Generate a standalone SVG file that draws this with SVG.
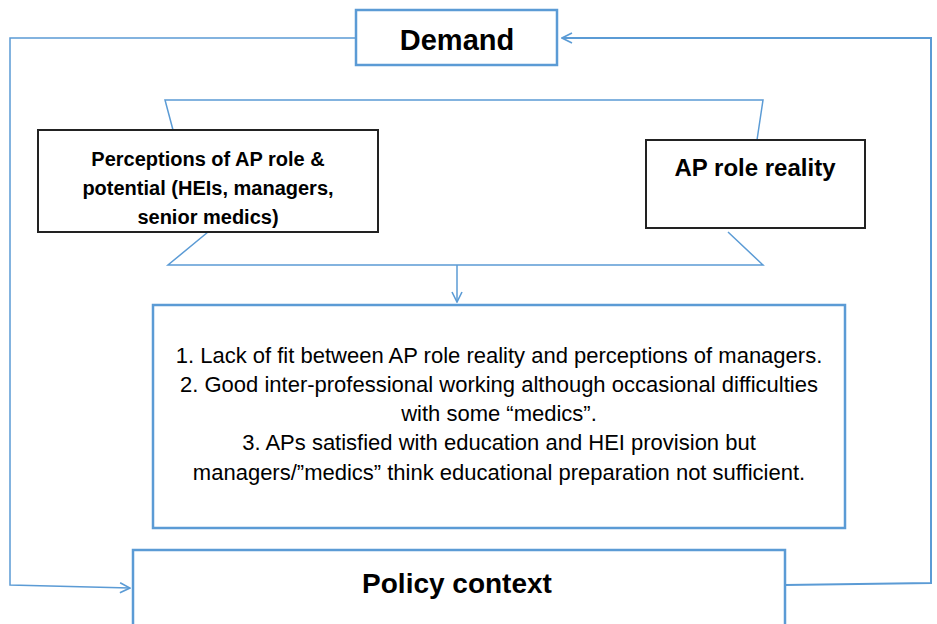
<svg xmlns="http://www.w3.org/2000/svg" width="937" height="624" viewBox="0 0 937 624">
<defs>
<marker id="arr" viewBox="0 0 12 12" refX="11" refY="6" markerWidth="12" markerHeight="12" markerUnits="userSpaceOnUse" orient="auto">
<path d="M1,1 L11,6 L1,11" fill="none" stroke="#5B9BD5" stroke-width="1.6"/>
</marker>
</defs>
<style>
.blue{fill:#fff;stroke:#5B9BD5;stroke-width:2.5}
.black{fill:#fff;stroke:#222;stroke-width:2}
.ln{fill:none;stroke:#5B9BD5;stroke-width:1.5}
.ln2{fill:none;stroke:#5B9BD5;stroke-width:2}
.t{font-family:"Liberation Sans",Arial,sans-serif;fill:#000;text-anchor:middle}
.b{font-weight:bold}
</style>
<g id="connectors">
<polyline class="ln" points="356,38 10,38 10,585 130,588" marker-end="url(#arr)"/>
<polyline class="ln2" points="785,585 931,583 931,38 562,38" marker-end="url(#arr)"/>
<polyline class="ln" points="173,130 165,100 763,100 757,140"/>
<polyline class="ln" points="208,232 168,265 763,265 728,232"/>
<line class="ln" x1="457" y1="265" x2="457" y2="302" marker-end="url(#arr)"/>
</g>
<g id="demand">
<rect class="blue" x="356" y="10" width="201" height="55"/>
<text class="t b" x="457" y="50" font-size="29">Demand</text>
</g>
<g id="perceptions">
<rect class="black" x="38" y="130" width="340" height="102"/>
<text class="t b" x="208" y="166" font-size="20">Perceptions of AP role &amp;</text>
<text class="t b" x="208" y="195" font-size="20">potential (HEIs, managers,</text>
<text class="t b" x="208" y="224" font-size="20">senior medics)</text>
</g>
<g id="reality">
<rect class="black" x="646" y="140" width="219" height="88"/>
<text class="t b" x="755" y="176" font-size="24">AP role reality</text>
</g>
<g id="findings">
<rect class="blue" x="153" y="305" width="692" height="223"/>
<text class="t" x="499" y="363" font-size="22">1. Lack of fit between AP role reality and perceptions of managers.</text>
<text class="t" x="499" y="392" font-size="22">2. Good inter-professional working although occasional difficulties</text>
<text class="t" x="499" y="421" font-size="22">with some “medics”.</text>
<text class="t" x="499" y="450" font-size="22">3. APs satisfied with education and HEI provision but</text>
<text class="t" x="499" y="480" font-size="22">managers/”medics” think educational preparation not sufficient.</text>
</g>
<g id="policy">
<rect class="blue" x="133" y="550" width="652" height="80"/>
<text class="t b" x="457" y="593" font-size="28">Policy context</text>
</g>
</svg>
